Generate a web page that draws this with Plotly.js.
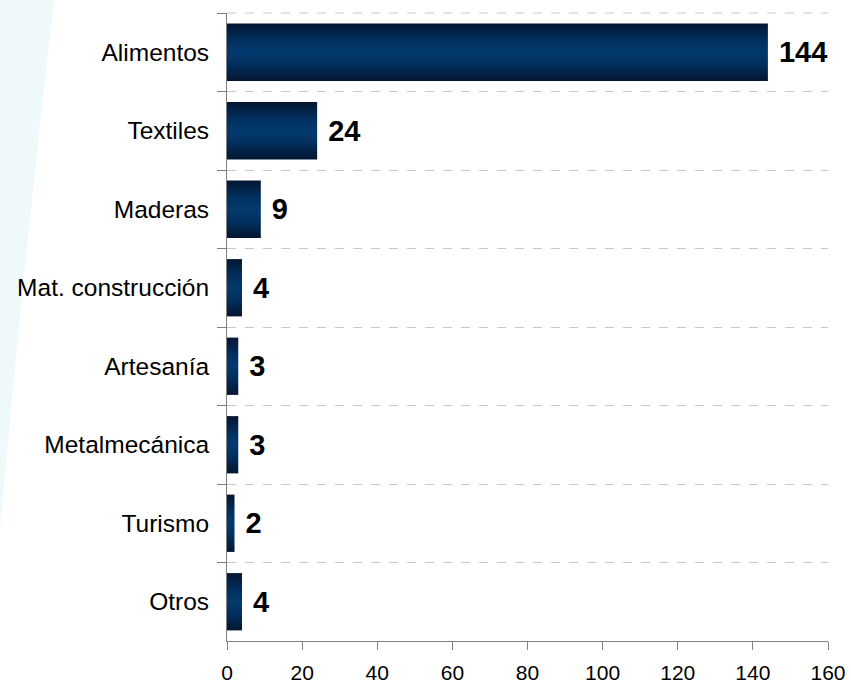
<!DOCTYPE html>
<html>
<head>
<meta charset="utf-8">
<script src="https://cdn.plot.ly/plotly-3.0.1.min.js"></script>
<style>
  html, body { margin: 0; padding: 0; background: #ffffff; }
  #chart { width: 851px; height: 685px; }
</style>
</head>
<body>
<div id="chart"></div>
<script>
// ---- data ----
const categories = ["Alimentos", "Textiles", "Maderas", "Mat. construcción", "Artesanía", "Metalmecánica", "Turismo", "Otros"];
const values = [144, 24, 9, 4, 3, 3, 2, 4];
const valueLabels = ["144", "24", "9", "4", "3", "3", "2", "4"];
const xTickValues = [0, 20, 40, 60, 80, 100, 120, 140, 160];

// ---- layout geometry (pixels) ----
const W = 851, H = 685;
const M = { l: 227, r: 23, t: 13, b: 44 };
const pw = W - M.l - M.r, ph = H - M.t - M.b;
const px = x => (x - M.l) / pw;
const py = y => (H - M.b - y) / ph;

const trace = {
  type: "bar",
  orientation: "h",
  y: categories,
  x: values,
  text: valueLabels.map(s => " " + s),
  textposition: "outside",
  cliponaxis: false,
  constraintext: "none",
  textfont: { family: "Liberation Sans, Arial, sans-serif", size: 29, color: "#000000", weight: "bold" },
  marker: { color: "#06295a", line: { width: 0 } },
  hoverinfo: "none"
};

const bgPath = "M " + px(0) + "," + py(0) +
  " L " + px(54) + "," + py(0) +
  " Q " + px(24) + "," + py(260) + " " + px(0) + "," + py(530) + " Z";

const layout = {
  width: W, height: H,
  margin: M,
  paper_bgcolor: "rgba(0,0,0,0)",
  plot_bgcolor: "rgba(0,0,0,0)",
  showlegend: false,
  bargap: 0.27,
  font: { family: "Liberation Sans, Arial, sans-serif", color: "#000000" },
  xaxis: {
    range: [0, 160],
    tickvals: xTickValues,
    ticktext: xTickValues.map(String),
    ticks: "outside", ticklen: 8, tickwidth: 1, tickcolor: "#808080",
    showline: true, linecolor: "#808080", linewidth: 1,
    showgrid: false, zeroline: false,
    tickfont: { size: 21, color: "#000000" },
    ticklabelstandoff: 5,
    fixedrange: true
  },
  yaxis: {
    autorange: "reversed",
    type: "category",
    tickson: "boundaries",
    ticks: "outside", ticklen: 9, tickwidth: 1, tickcolor: "#808080",
    showline: true, linecolor: "#808080", linewidth: 1,
    showgrid: true, gridcolor: "#c8c8c8", griddash: "dash", gridwidth: 1,
    zeroline: false,
    tickfont: { size: 24.5, color: "#000000" },
    ticklabelstandoff: 12,
    fixedrange: true
  },
  shapes: [
    {
      type: "path", xref: "paper", yref: "paper", layer: "below",
      path: bgPath,
      fillcolor: "#eff9fc", line: { width: 0 }
    },
    {
      type: "line", xref: "paper", yref: "paper", layer: "below",
      x0: 0, x1: 1, y0: 1, y1: 1,
      line: { color: "#c8c8c8", width: 1, dash: "dash" }
    }
  ]
};

function applyGradient(gd) {
  const svg = gd.querySelector(".main-svg");
  if (!svg) return;
  let defs = svg.querySelector("defs");
  const ns = "http://www.w3.org/2000/svg";
  if (!defs) { defs = document.createElementNS(ns, "defs"); svg.insertBefore(defs, svg.firstChild); }
  if (!svg.querySelector("#barGrad")) {
    const g = document.createElementNS(ns, "linearGradient");
    g.setAttribute("id", "barGrad");
    g.setAttribute("x1", "0"); g.setAttribute("y1", "0");
    g.setAttribute("x2", "0"); g.setAttribute("y2", "1");
    const stops = [[0, "#041631"], [0.3, "#02305f"], [0.5, "#033a6e"], [0.7, "#02305f"], [1, "#041631"]];
    stops.forEach(([o, c]) => {
      const s = document.createElementNS(ns, "stop");
      s.setAttribute("offset", o); s.setAttribute("stop-color", c);
      g.appendChild(s);
    });
    defs.appendChild(g);
  }
  gd.querySelectorAll(".trace.bars .point path").forEach(p => { p.style.fill = "url(#barGrad)"; });
}

const gd = document.getElementById("chart");
Plotly.newPlot(gd, [trace], layout, { displayModeBar: false, staticPlot: true }).then(() => {
  applyGradient(gd);
  gd.on("plotly_afterplot", () => applyGradient(gd));
});
</script>
</body>
</html>
